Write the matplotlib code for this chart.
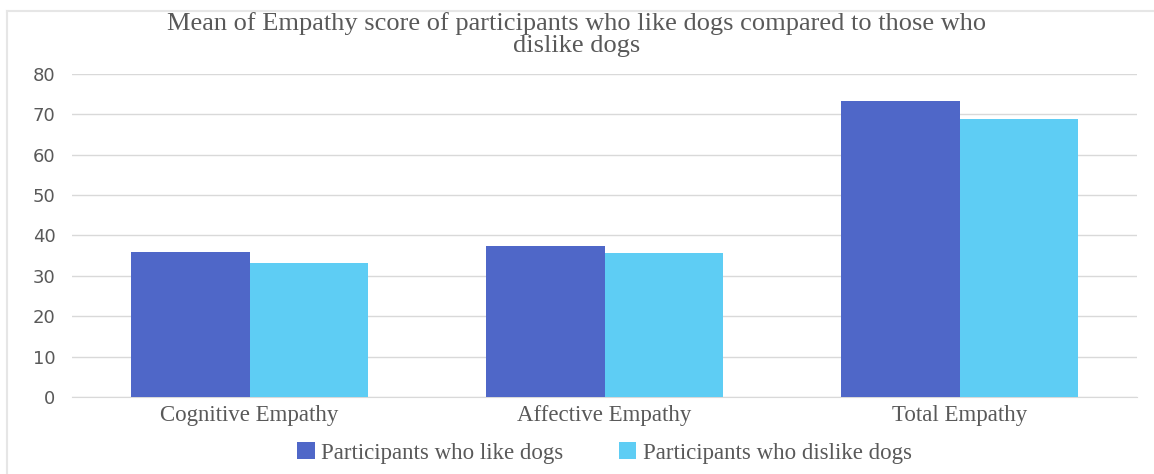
import numpy as np
import matplotlib.pyplot as plt
from matplotlib.lines import Line2D

# Chart data
categories = ['Cognitive Empathy', 'Affective Empathy', 'Total Empathy']
like_dogs = [35.9, 37.4, 73.3]
dislike_dogs = [33.2, 35.6, 68.8]
series_names = ['Participants who like dogs', 'Participants who dislike dogs']
yticks = [0, 10, 20, 30, 40, 50, 60, 70, 80]

plt.rcParams['font.family'] = ['Liberation Serif', 'DejaVu Serif']
text_color = '#595959'

fig = plt.figure(figsize=(11.54, 4.74), dpi=100)
ax = fig.add_axes([72 / 1154, 1 - 397 / 474, (1137 - 72) / 1154, (397 - 74) / 474])

# chart border (only top and left edges are visible in the crop)
W, H = 1154, 474
fig.lines.append(Line2D([7 / W, 1.0], [1 - 10.5 / H, 1 - 10.5 / H], transform=fig.transFigure,
                        color='#e6e6e6', linewidth=1.5))
fig.lines.append(Line2D([7 / W, 7 / W], [0.0, 1 - 10.5 / H], transform=fig.transFigure,
                        color='#e6e6e6', linewidth=1.5))

x = np.arange(len(categories))
w = 0.333
ax.bar(x - w / 2, like_dogs, w, color='#4f67c8', label=series_names[0], zorder=3)
ax.bar(x + w / 2, dislike_dogs, w, color='#5ecdf4', label=series_names[1], zorder=3)

ax.set_xlim(-0.5, 2.5)
ax.set_ylim(0, 80)
ax.set_yticks(yticks)
ax.grid(axis='y', color='#d9d9d9', linewidth=1, zorder=0)
for s in ['top', 'right', 'left']:
    ax.spines[s].set_visible(False)
ax.spines['bottom'].set_color('#d9d9d9')
ax.tick_params(axis='both', length=0, colors=text_color)
ax.tick_params(axis='y', pad=12)
ax.tick_params(axis='x', pad=6)
ax.set_xticks(x)
ax.set_xticklabels(categories, fontsize=16.5)
for lbl in ax.get_yticklabels():
    lbl.set_fontfamily(['DejaVu Sans'])
    lbl.set_fontsize(13)

fig.text(0.5, 0.974, 'Mean of Empathy score of participants who like dogs compared to those who\ndislike dogs',
         ha='center', va='top', fontsize=19, color=text_color, linespacing=1.0)

ax.legend(loc='center', bbox_to_anchor=(0.5, -0.173), ncol=2, frameon=False,
          fontsize=16.5, labelcolor=text_color, handlelength=0.75, handleheight=0.75,
          handletextpad=0.3, columnspacing=2.4)

fig.savefig('out.png', dpi=100)
